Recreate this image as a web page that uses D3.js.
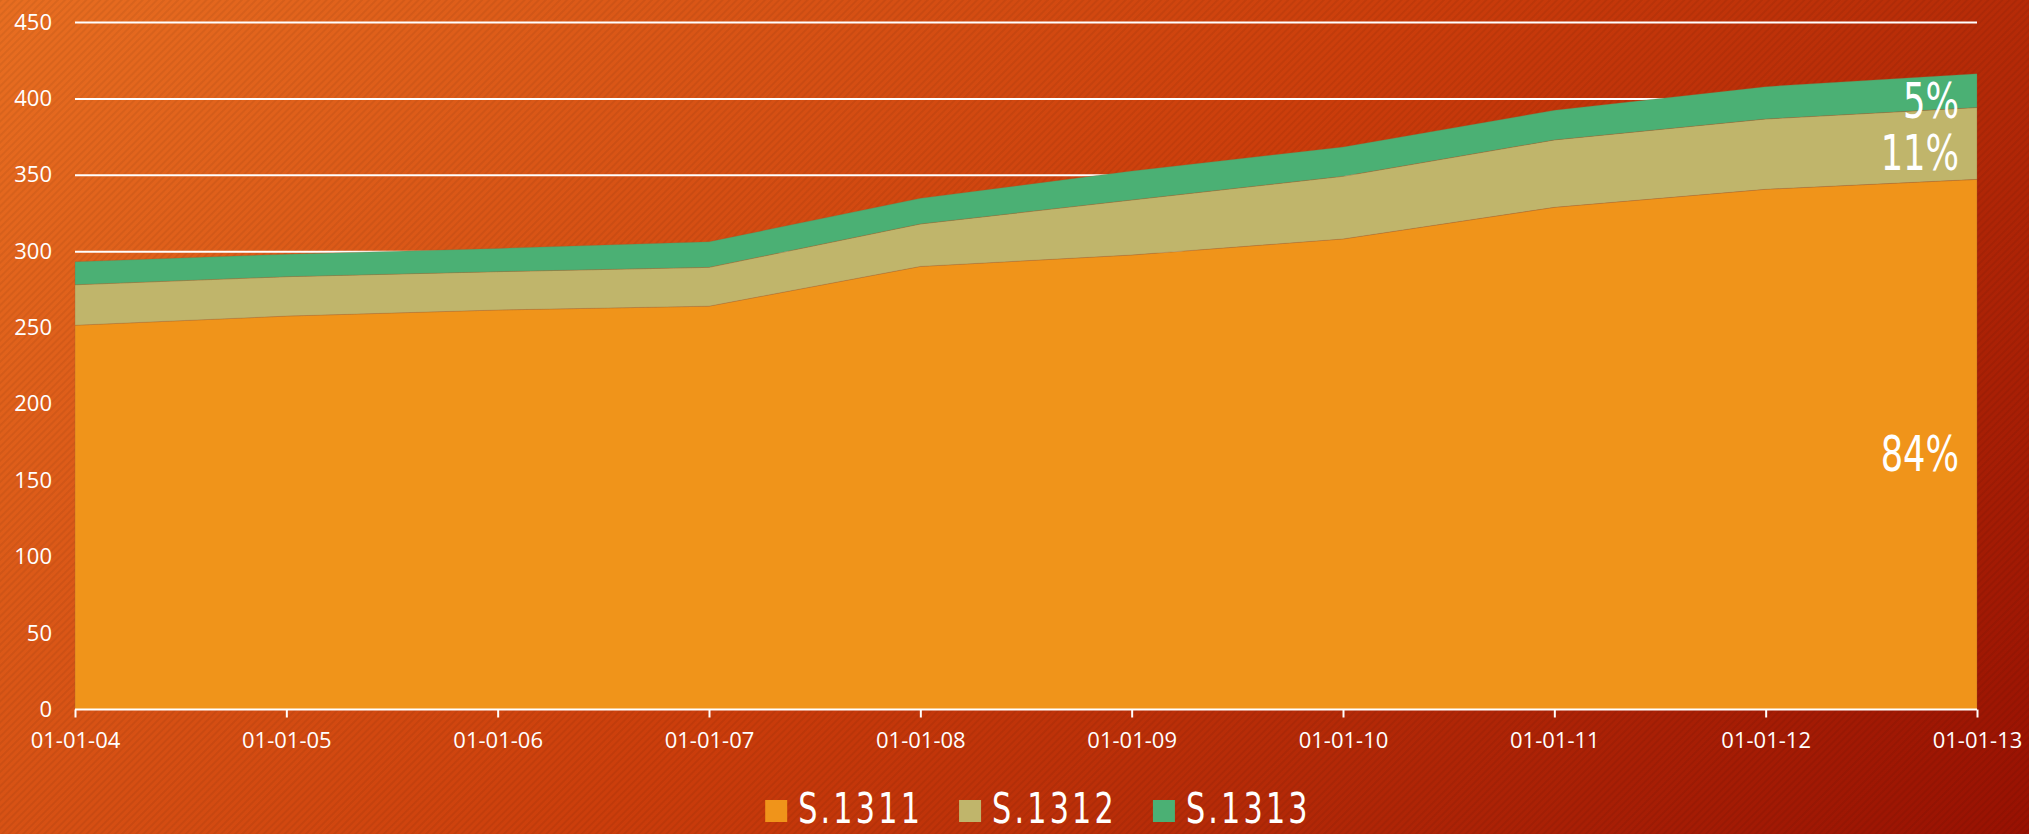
<!DOCTYPE html>
<html>
<head>
<meta charset="utf-8">
<script src="https://cdn.jsdelivr.net/npm/d3@7"></script>
<style>
  html, body { margin: 0; padding: 0; overflow: hidden; background: #c83a0c; }
  svg { display: block; }
  .tick text { fill: #ffffff; font-family: "Open Sans", "Noto Sans", sans-serif; font-size: 22px; }
  .cond { font-family: "DejaVu Sans Condensed", "DejaVu Sans", sans-serif; font-stretch: condensed; }
</style>
</head>
<body>
<svg id="chart" width="2029" height="834"></svg>
<script>
// ---- data ----
const categories = ["01-01-04","01-01-05","01-01-06","01-01-07","01-01-08","01-01-09","01-01-10","01-01-11","01-01-12","01-01-13"];
const s1311 = [251.5, 257.5, 261.5, 264.0, 290.0, 297.5, 308.0, 328.7, 340.5, 347.0];
const s1312 = [26.5, 25.8, 25.1, 25.4, 27.8, 36.0, 41.0, 44.1, 46.0, 47.0];
const s1313 = [15.1, 14.7, 15.2, 16.8, 16.8, 19.0, 19.2, 19.4, 21.2, 22.2];
const seriesNames = ["S.1311", "S.1312", "S.1313"];
const seriesColors = ["#F0941A", "#C0B56B", "#4BB074"];
const yTickValues = [0, 50, 100, 150, 200, 250, 300, 350, 400, 450];
const shareLabels = ["84%", "11%", "5%"];

// ---- layout ----
const W = 2029, H = 834;
const plot = { left: 75, right: 1977, top: 22, bottom: 709.5 };
const narrow = 0.8;

const svg = d3.select("#chart");
const defs = svg.append("defs");

// background gradient + stripes
const grad = defs.append("linearGradient")
  .attr("id", "bg").attr("gradientUnits", "userSpaceOnUse")
  .attr("x1", 0).attr("y1", 0).attr("x2", 1430).attr("y2", 1430);
grad.append("stop").attr("offset", 0).attr("stop-color", "#E86E21");
grad.append("stop").attr("offset", 0.5).attr("stop-color", "#CB3D0B");
grad.append("stop").attr("offset", 1).attr("stop-color", "#981102");

const pat = defs.append("pattern")
  .attr("id", "stripes").attr("patternUnits", "userSpaceOnUse")
  .attr("width", 5).attr("height", 5)
  .attr("patternTransform", "rotate(45)");
pat.append("rect").attr("width", 2).attr("height", 5).attr("fill", "rgba(0,0,0,0.06)");

svg.append("rect").attr("width", W).attr("height", H).attr("fill", "url(#bg)");
svg.append("rect").attr("width", W).attr("height", H).attr("fill", "url(#stripes)");

// scales
const x = d3.scalePoint().domain(categories).range([plot.left, plot.right]).padding(0);
const y = d3.scaleLinear().domain([0, 450]).range([plot.bottom, plot.top]);

// gridlines
const grid = svg.append("g").attr("transform", `translate(${plot.left},0)`)
  .call(d3.axisLeft(y).tickValues(yTickValues.filter(v => v > 0))
    .tickSize(-(plot.right - plot.left)).tickFormat(""));
grid.select(".domain").remove();
grid.selectAll(".tick line").attr("stroke", "#ffffff").attr("stroke-width", 2);

// stacked data
const rows = categories.map((c, i) => ({ cat: c, "S.1311": s1311[i], "S.1312": s1312[i], "S.1313": s1313[i] }));
const stacked = d3.stack().keys(seriesNames)(rows);

const area = d3.area()
  .x(d => x(d.data.cat))
  .y0(d => y(d[0]))
  .y1(d => y(d[1]));

svg.append("g").selectAll("path").data(stacked).join("path")
  .attr("d", area)
  .attr("fill", (d, i) => seriesColors[i])
  .attr("stroke", "rgba(150,95,50,0.35)")
  .attr("stroke-width", 0.8);

// y axis labels
const yAxis = svg.append("g").attr("transform", `translate(${plot.left},0)`)
  .call(d3.axisLeft(y).tickValues(yTickValues).tickSize(0).tickPadding(23));
yAxis.select(".domain").remove();

// x axis
const xAxis = svg.append("g").attr("transform", `translate(0,${plot.bottom})`)
  .call(d3.axisBottom(x).tickSize(8));
xAxis.select(".domain").attr("stroke", "#ffffff").attr("stroke-width", 2)
  .attr("d", `M${plot.left},0H${plot.right}`);
xAxis.selectAll(".tick line").attr("stroke", "#ffffff").attr("stroke-width", 2);
xAxis.selectAll(".tick text").attr("y", 38).attr("dy", 0);

// share labels at the last point
const lastIdx = categories.length - 1;
svg.append("g").selectAll("text").data(stacked).join("text")
  .attr("class", "cond")
  .attr("transform", d => `translate(${x(categories[lastIdx]) - 18},${y((d[lastIdx][0] + d[lastIdx][1]) / 2) + 27}) scale(${narrow},1)`)
  .attr("text-anchor", "end")
  .attr("fill", "#ffffff")
  .style("font-size", "49px")
  .text((d, i) => shareLabels[i]);

// legend
const legend = svg.append("g");
const items = legend.selectAll("g").data(seriesNames).join("g");
items.append("rect").attr("width", 22).attr("height", 22).attr("y", -23)
  .attr("fill", (d, i) => seriesColors[i]);
items.append("text")
  .attr("class", "cond")
  .attr("transform", `translate(33,0) scale(${narrow},1)`)
  .attr("fill", "#ffffff")
  .style("font-size", "42px")
  .style("letter-spacing", "4px")
  .text(d => d);
let cx = 0;
const gap = 36;
items.each(function () {
  const g = d3.select(this);
  g.attr("transform", `translate(${cx},0)`);
  const tw = g.select("text").node().getComputedTextLength() * narrow;
  cx += 33 + tw + gap;
});
const totalW = cx - gap;
legend.attr("transform", `translate(${1038 - totalW / 2},823)`);
</script>
</body>
</html>
